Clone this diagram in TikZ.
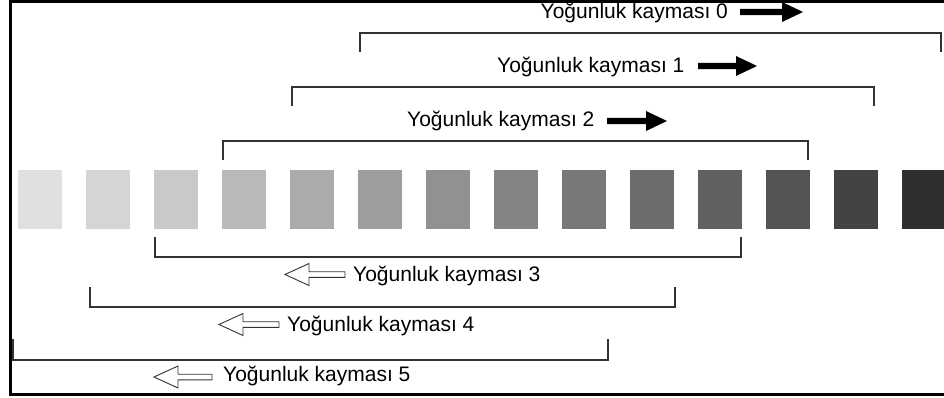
\documentclass[tikz,border=0pt]{standalone}
\usepackage{fontspec}
\setmainfont{Liberation Sans}
\definecolor{s1}{HTML}{DEDFE0}
\definecolor{s2}{HTML}{D4D5D6}
\definecolor{s3}{HTML}{C8C9CA}
\definecolor{s4}{HTML}{B8B9BB}
\definecolor{s5}{HTML}{AAABAD}
\definecolor{s6}{HTML}{9D9EA0}
\definecolor{s7}{HTML}{909193}
\definecolor{s8}{HTML}{838486}
\definecolor{s9}{HTML}{77787A}
\definecolor{s10}{HTML}{6B6C6E}
\definecolor{s11}{HTML}{5F6062}
\definecolor{s12}{HTML}{535456}
\definecolor{s13}{HTML}{434343}
\definecolor{s14}{HTML}{302E2F}
\definecolor{brk}{HTML}{333333}
\tikzset{
  lbl/.style={inner sep=0pt, anchor=base west, font=\fontsize{21}{25}\selectfont},
  bracketline/.style={draw=brk, line width=1.6pt},
  frameline/.style={draw=black, line width=3pt},
  solidarrow/.style={fill=black, draw=none},
  hollowarrow/.style={fill=white, draw=brk, line width=0.9pt, line join=miter},
  swatch/.style={draw=none, inner sep=0pt, minimum width=44pt, minimum height=59pt, anchor=north west}
}
\begin{document}
\begin{tikzpicture}[x=1pt, y=-1pt]
\useasboundingbox (0,0) rectangle (944,398);
% frame
\draw[frameline] (10.5,394) -- (10.5,1.5) -- (950,1.5);
\draw[frameline] (9,394.5) -- (950,394.5);
% swatches
\foreach \i in {1,...,14} {
  \node[swatch, fill=s\i] (sq\i) at ({18+(\i-1)*68},170) {};
}
% upper brackets
\coordinate (b0l) at (360,52); \coordinate (b0r) at (941,52);
\draw[bracketline] (b0l) -- (360,33) -- (941,33) -- (b0r);
\coordinate (b1l) at (292,106); \coordinate (b1r) at (874,106);
\draw[bracketline] (b1l) -- (292,87) -- (874,87) -- (b1r);
\coordinate (b2l) at (223,160); \coordinate (b2r) at (808,160);
\draw[bracketline] (b2l) -- (223,141) -- (808,141) -- (b2r);
% lower brackets
\coordinate (b3l) at (155,237); \coordinate (b3r) at (741,237);
\draw[bracketline] (b3l) -- (155,257) -- (741,257) -- (b3r);
\coordinate (b4l) at (90,287); \coordinate (b4r) at (675,287);
\draw[bracketline] (b4l) -- (90,307) -- (675,307) -- (b4r);
\coordinate (b5l) at (13,339); \coordinate (b5r) at (608,339);
\draw[bracketline] (b5l) -- (13,360) -- (608,360) -- (b5r);
% labels
\node[lbl] (t0) at (540.5,19) {Yoğunluk kayması 0};
\node[lbl] (t1) at (497,73) {Yoğunluk kayması 1};
\node[lbl] (t2) at (407,127) {Yoğunluk kayması 2};
\node[lbl] (t3) at (353,281) {Yoğunluk kayması 3};
\node[lbl] (t4) at (287,331) {Yoğunluk kayması 4};
\node[lbl] (t5) at (223,381) {Yoğunluk kayması 5};
% solid arrows (right)
\foreach \xa/\xb/\c in {740/803/12, 698/757/66, 607/667/121} {
  \fill[solidarrow] (\xa,\c-3.2) -- (\xb-21,\c-3.2) -- (\xb-21,\c-10) -- (\xb,\c) -- (\xb-21,\c+10) -- (\xb-21,\c+3.2) -- (\xa,\c+3.2) -- cycle;
}
% hollow arrows (left)
\foreach \xa/\xb/\c in {285/345/274.5, 219/279/324.5, 154/212/377} {
  \draw[hollowarrow] (\xb,\c-2.8) -- (\xa+24,\c-2.8) -- (\xa+24,\c-11) -- (\xa,\c) -- (\xa+24,\c+11) -- (\xa+24,\c+2.8) -- (\xb,\c+2.8) -- cycle;
}
\end{tikzpicture}
\end{document}
